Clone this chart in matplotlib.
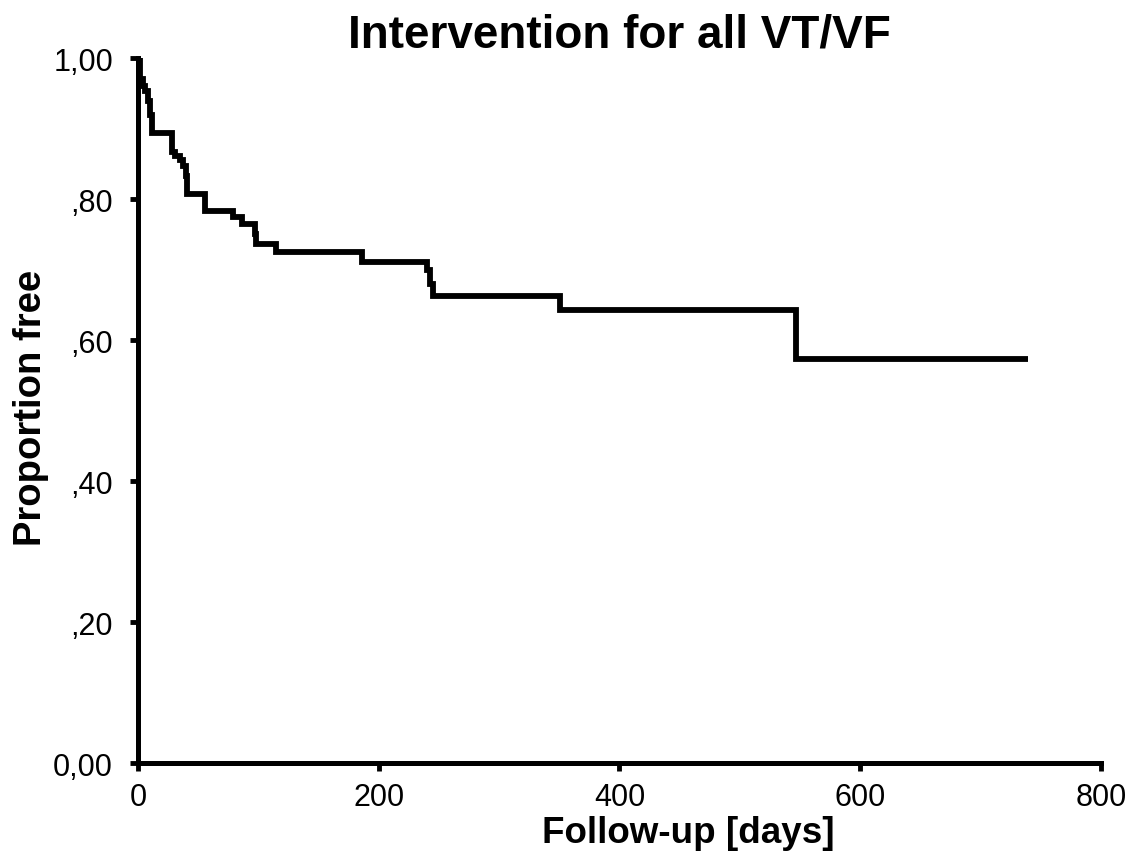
import matplotlib
matplotlib.use("Agg")
import matplotlib.pyplot as plt

# Data (Kaplan-Meier step curve)
days = [0, 2, 4, 6, 8, 10, 12, 28, 31, 35, 37, 40, 41, 56, 79, 86, 97, 98, 115, 186, 240, 243, 245, 351, 547, 739]
proportion = [1.0, 0.97, 0.96, 0.953, 0.939, 0.919, 0.894, 0.866, 0.861, 0.855, 0.847, 0.833, 0.807,
              0.783, 0.774, 0.765, 0.75, 0.736, 0.725, 0.711, 0.70, 0.68, 0.663, 0.642, 0.573, 0.573]

x_ticks = [0, 200, 400, 600, 800]
x_ticklabels = ["0", "200", "400", "600", "800"]
y_ticks = [0.0, 0.2, 0.4, 0.6, 0.8, 1.0]
y_ticklabels = ["0,00", ",20", ",40", ",60", ",80", "1,00"]

title = "Intervention for all VT/VF"
xlabel = "Follow-up [days]"
ylabel = "Proportion free"

font = "Liberation Sans"

fig = plt.figure(figsize=(11.33, 8.53), dpi=100)
ax = fig.add_axes([0.1218, 0.1043, 0.8499, 0.8265])

ax.plot(days, proportion, drawstyle="steps-post", color="black", linewidth=4.2,
        solid_joinstyle="miter", solid_capstyle="butt")

ax.set_xlim(0, 800)
ax.set_ylim(0, 1.0)
ax.set_xticks(x_ticks)
ax.set_xticklabels(x_ticklabels, fontfamily=font, fontsize=22)
ax.set_yticks(y_ticks)
ax.set_yticklabels(y_ticklabels, fontfamily=font, fontsize=22)

for s in ["top", "right"]:
    ax.spines[s].set_visible(False)
for s in ["left", "bottom"]:
    ax.spines[s].set_linewidth(3.6)
    ax.spines[s].set_color("black")

ax.tick_params(axis="both", direction="out", length=6, width=3.5, color="black")
ax.tick_params(axis="y", pad=12)
ax.tick_params(axis="x", pad=8)

ax.set_title(title, fontfamily=font, fontweight="bold", fontsize=33, pad=8)
ax.set_xlabel(xlabel, fontfamily=font, fontweight="bold", fontsize=26.5, labelpad=2, x=0.571)
ax.set_ylabel(ylabel, fontfamily=font, fontweight="bold", fontsize=27.5, labelpad=3, y=0.505)

fig.savefig("out.png", dpi=100, facecolor="white")
